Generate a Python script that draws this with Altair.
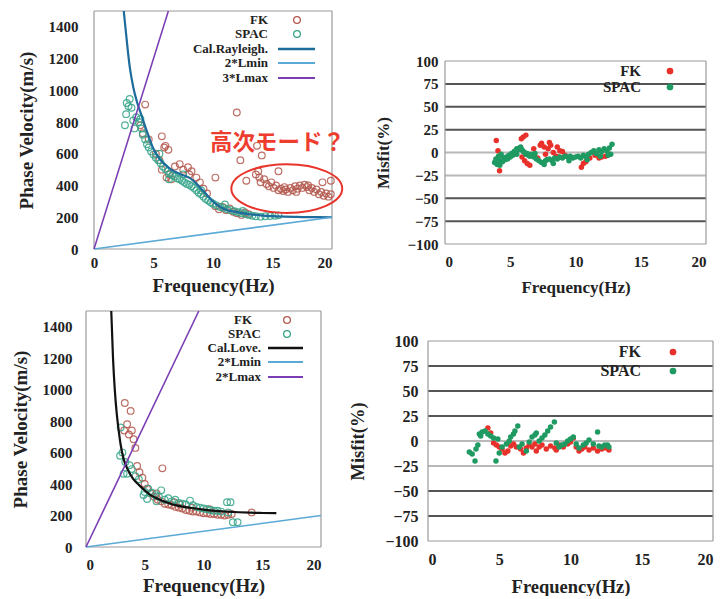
import altair as alt
import pandas as pd

SERIF = "Liberation Serif"

# ---------------- Panel 1 (Rayleigh) ----------------
fk1_f = [4.3, 4.1, 3.9, 4.6, 5.7, 5.9, 6.0, 6.25, 5.2, 5.5, 5.7, 6.1, 6.5, 6.3, 6.8, 7.2, 7.5, 7.9, 8.2, 8.0,
         8.6, 8.9, 9.2, 9.5, 10.2, 10.2, 10.5, 10.8, 11.1, 11.4, 11.7, 12.0, 12.4, 12.7, 13.0, 12.0, 12.3, 12.8,
         13.7, 14.1, 13.8, 15.5,
         13.6, 13.9, 14.0, 14.3, 14.5, 14.7, 14.9, 15.1, 15.3, 15.5, 15.7, 15.9, 16.1, 16.3, 16.5, 16.7, 16.9,
         17.1, 17.3, 17.5, 17.7, 17.9, 18.1, 18.3, 18.5, 18.7, 18.9, 19.1, 19.3, 19.5, 19.7, 19.9, 19.2, 19.9,
         18.0, 16.0, 17.0]
fk1_v = [910, 730, 780, 690, 710, 640, 650, 625, 600, 560, 500, 450, 440, 470, 520, 535, 500, 515, 490, 470,
         450, 420, 380, 350, 450, 270, 250, 265, 245, 255, 235, 225, 215, 230, 220, 860, 560, 430,
         650, 590, 490, 490,
         470, 450, 420, 440, 410, 395, 420, 385, 400, 370, 380, 365, 375, 360, 385, 370, 395,
         380, 400, 385, 405, 390, 370, 385, 360, 375, 345, 360, 335, 350, 330, 345, 420, 430,
         400, 390, 360]
spac1_f = [2.6, 2.7, 2.75, 2.9, 3.0, 3.15, 3.3, 3.4, 3.55, 3.75, 3.9, 4.0, 4.1, 4.3, 4.45, 4.6, 4.8, 5.0, 5.2,
           5.4, 5.6, 5.8, 6.0, 6.2, 6.4, 6.6, 6.8, 7.0, 7.2, 7.4, 7.6, 7.8, 8.0, 8.2, 8.4, 8.6, 8.8, 9.0, 9.2,
           9.4, 9.6, 9.8, 10.0, 10.3, 10.6, 10.9, 11.2, 11.5, 11.8, 12.1, 12.4, 12.7, 13.0, 13.3, 13.6, 14.0,
           14.4, 14.8, 15.2, 15.5, 5.5, 6.3, 7.5, 9.0, 11.0, 12.5]
spac1_v = [780, 850, 920, 900, 945, 890, 810, 760, 830, 800, 820, 760, 720, 690, 660, 640, 615, 595, 575,
           560, 540, 520, 505, 490, 475, 465, 455, 445, 440, 430, 420, 410, 405, 395, 385, 370, 355, 345, 330,
           315, 305, 295, 285, 275, 265, 258, 250, 245, 238, 232, 226, 220, 215, 210, 206, 204,
           206, 208, 210, 212, 600, 440, 470, 370, 280, 240]
ray_f = [2.5, 2.8, 3.0, 3.3, 3.6, 4.0, 4.5, 5.0, 5.5, 6.0, 6.5, 7.0, 7.5, 8.0, 8.5, 9.0, 9.5, 10.0, 10.5,
         11.0, 12.0, 13.0, 14.0, 15.0, 16.0, 17.0, 18.0, 20.0]
ray_v = [1500, 1280, 1150, 1020, 930, 840, 730, 630, 570, 530, 500, 480, 465, 450, 420, 380, 340, 300, 270,
         250, 232, 220, 212, 207, 204, 202, 201, 200]
lmin_f = [0, 20]
lmin_v = [0, 200]
lmax1_f = [0, 6.25]
lmax1_v = [0, 1500]
ann_f = [9.75]
ann_v = [668]
ann_text = ["高次モード？"]
ell_f = [16.2]
ell_v = [381]

# ---------------- Panel 3 (Love) ----------------
fk3_f = [3.3, 3.8, 3.5, 3.25, 3.65, 3.9, 4.05, 4.2, 4.35, 4.55, 6.5, 4.8, 5.0, 5.2, 5.5, 5.8, 6.1, 6.4, 6.7,
         7.0, 7.3, 7.6, 7.9, 8.2, 8.5, 8.8, 9.1, 9.4, 9.7, 10.0, 10.3, 10.6, 10.9, 11.2, 11.5, 11.8, 12.1,
         12.4, 14.1, 6.0, 7.5, 9.0, 10.5, 8.0]
fk3_v = [915, 865, 780, 740, 715, 740, 685, 630, 515, 475, 500, 440, 400, 370, 340, 320, 300, 290, 275,
         270, 265, 255, 250, 245, 235, 230, 225, 225, 220, 215, 215, 210, 210, 205, 205, 200, 205,
         210, 220, 340, 285, 250, 240, 270]
spac3_f = [2.95, 2.9, 3.1, 3.35, 3.2, 3.5, 3.9, 3.7, 4.2, 4.5, 4.9, 5.3, 5.2, 5.6, 5.9, 6.2, 6.4, 6.7, 7.0,
           7.3, 7.6, 7.9, 8.2, 8.5, 8.85, 9.1, 9.4, 9.7, 10.0, 10.3, 10.6, 10.9, 11.2, 11.5, 12.0, 12.3,
           12.1, 12.5, 12.9, 6.0, 5.0]
spac3_v = [760, 580, 600, 540, 465, 465, 495, 520, 450, 430, 330, 370, 305, 345, 330, 320, 360, 300, 310,
           290, 300, 280, 275, 270, 295, 265, 255, 250, 245, 240, 235, 230, 230, 225, 285, 285,
           220, 158, 158, 290, 350]
love_f = [2.15, 2.3, 2.45, 2.6, 2.75, 2.95, 3.2, 3.5, 4.0, 4.5, 5.0, 5.5, 6.0, 7.0, 8.0, 9.0, 10.0, 11.0,
          12.0, 13.0, 14.0, 15.0, 16.2]
love_v = [1500, 1200, 1000, 860, 760, 650, 560, 500, 435, 395, 360, 330, 310, 280, 260, 248, 238, 230,
          225, 221, 218, 216, 215]
lmax3_f = [0, 9.6]
lmax3_v = [0, 1500]

# ---------------- Panel 2 (Rayleigh misfit) ----------------
mfk2_f = [3.93, 4.06, 4.18, 5.85, 6.0, 6.2, 5.9, 6.1, 6.3, 6.5, 6.8, 7.1, 7.4, 7.6, 7.9, 7.7, 8.1, 8.3, 8.5,
          8.6, 8.8, 9.0, 9.2, 10.45, 10.6, 10.8, 11.1, 11.5, 11.8, 12.0, 12.3, 12.6, 7.3, 8.0, 8.7]
mfk2_m = [13, 2, -20, 15, 17, 19, -5, -9, -12, -14, 4, -6, 10, 6, 4, -2, 8, 0, -4,
          6, 2, 1, -3, -16, -12, -10, -6, -3, -6, -5, -4, -2, 8, 11, -5]
msp2_f = [3.8, 3.9, 4.0, 4.1, 4.2, 4.3, 4.4, 4.5, 4.6, 4.7, 4.8, 4.9, 5.0, 5.1, 5.2, 5.3, 5.4, 5.5, 5.6,
          5.7, 5.8, 5.9, 6.0, 6.1, 6.2, 6.3, 6.4, 6.5, 6.6, 6.8, 7.0, 7.2, 7.4, 7.6, 7.7, 7.8, 8.0, 8.2,
          8.4, 8.6, 8.8, 9.0, 9.2, 9.4, 9.6, 9.8, 10.0, 10.2, 10.4, 10.6, 10.8, 11.0, 11.2, 11.4, 11.6,
          11.8, 12.0, 12.2, 12.4, 12.6, 12.8, 12.7, 11.9, 4.2, 5.5, 6.9, 8.3, 9.5, 10.9, 12.5]
msp2_m = [-11, -7, -13, -4, -9, -2, -10, -6, -8, -5, -7, -3, -5, -1, -3, 1, 2, 4, 3,
          5, 6, 3, 1, 0, -2, -1, -3, -4, -2, -5, -7, -9, -11, -13, -9, -8, -7, -9,
          -6, -7, -5, -6, -4, -5, -4, -6, -5, -4, -6, -3, -5, -2, 0, 2, -1,
          3, 1, 4, 2, 5, 9, -2, -4, -14, -2, -1, -12, -9, -8, -3]

# ---------------- Panel 4 (Love misfit) ----------------
mfk4_f = [4.2, 4.4, 4.6, 4.8, 5.0, 5.2, 5.4, 5.6, 5.8, 6.0, 6.2, 6.5, 6.7, 6.9, 7.1, 7.3, 7.5, 7.8, 8.0,
          8.3, 8.6, 8.9, 9.2, 9.5, 9.8, 10.0, 10.2, 10.4, 10.6, 10.8, 11.0, 11.3, 11.6, 11.9, 12.2, 12.5,
          12.7, 9.0, 7.6]
mfk4_m = [13, 8, -2, -4, -6, -8, -12, -10, -5, -3, -6, -8, -12, -7, -4, -6, -3, -6, -4,
          -8, -5, -7, -4, -6, -3, -1, 3, -6, -10, -8, -6, -9, -7, -10, -8, -7,
          -9, -9, -10]
msp4_f = [2.9, 3.1, 3.3, 3.37, 3.5, 3.6, 3.7, 3.8, 4.0, 4.2, 4.4, 4.6, 4.77, 4.9, 5.0, 5.2, 5.5, 5.7, 5.8,
          6.0, 6.1, 6.3, 6.4, 6.6, 6.9, 7.1, 7.3, 7.5, 7.6, 7.8, 8.0, 8.2, 8.4, 8.6, 8.87, 9.0, 9.2, 9.4,
          9.6, 9.8, 10.0, 10.2, 10.4, 10.6, 10.9, 11.1, 11.3, 11.6, 11.9, 12.0, 12.2, 12.4, 12.6, 12.7]
msp4_m = [-11, -13, -20, -8, -4, 7, 5, 9, 10, 7, 5, 3, -20, 2, -12, -6, -3, 0, 4,
          7, 10, 15, -6, -3, -10, -1, 4, 6, 8, 0, 3, 6, 10, 14, 19, -2, -6, -4,
          -3, 0, 2, 4, -3, -7, -4, -2, 1, -3, 9, -5, -6, -4, -4, -6]

grid_dark = [75, 50, 25, -50, -75]
grid_light = [0, -25]
misfit_ticks = [100, 75, 50, 25, 0, -25, -50, -75, -100]
freq_ticks = [0, 5, 10, 15, 20]
vel_ticks = [0, 200, 400, 600, 800, 1000, 1200, 1400]

# ---------------- styles ----------------
C_FK = "#b3574c"
C_SPAC = "#34a489"
C_RAY = "#1d6c9c"
C_LMIN = "#5aa9d6"
C_LMAX = "#7a3db3"
C_RED = "#e8312b"
C_GREEN = "#1f9a62"
C_FRAME = "#9a9a9a"
NO_STROKE = alt.ViewBackground(strokeOpacity=0)


def df(xs, ys, xn="f", yn="v"):
    return pd.DataFrame({xn: xs, yn: ys})


def leg_text(label, x, y, size):
    return alt.Chart(pd.DataFrame({"label": [label]})).mark_text(
        align="right", baseline="middle", font=SERIF, fontWeight="bold", fontSize=size, color="#222"
    ).encode(x=alt.value(x), y=alt.value(y), text="label:N")


def leg_circle(x, y, color, filled, size):
    return alt.Chart(pd.DataFrame({"k": [0]})).mark_point(
        shape="circle", filled=filled, color=color, size=size, strokeWidth=1.3, opacity=1
    ).encode(x=alt.value(x), y=alt.value(y))


def leg_line(x1, x2, y, color, width):
    return alt.Chart(pd.DataFrame({"k": [0]})).mark_rule(color=color, strokeWidth=width).encode(
        x=alt.value(x1), x2=alt.value(x2), y=alt.value(y))


def phase_panel(w, h, left_px, fk, spac, curve, curve_color, lmin, lmax, labels, leg, ylab_pad, ytitle_pad,
                xlab_pad, xtitle_pad, extra=None):
    # plot area extended leftward by left_px (blank) to shift the framed panel inside its column
    fmin = -left_px * 20.0 / w
    X = alt.X("f:Q", scale=alt.Scale(domain=[fmin, 20], nice=False, zero=False),
              axis=alt.Axis(values=freq_ticks, title="Frequency(Hz)", titleX=left_px + w / 2.0,
                            labelPadding=xlab_pad, titlePadding=xtitle_pad))
    Y = alt.Y("v:Q", scale=alt.Scale(domain=[0, 1500], nice=False),
              axis=alt.Axis(values=vel_ticks, format="d", title="Phase Velocity(m/s)",
                            labelPadding=ylab_pad, titlePadding=ytitle_pad))
    frame_h = pd.DataFrame({"v": [0, 1500], "f": [0, 0], "f2": [20, 20]})
    frame_v = pd.DataFrame({"f": [0, 20], "v": [0, 0], "v2": [1500, 1500]})
    layers = [
        alt.Chart(frame_h).mark_rule(color=C_FRAME, strokeWidth=1.2).encode(x=X, x2="f2:Q", y=Y),
        alt.Chart(frame_v).mark_rule(color=C_FRAME, strokeWidth=1.2).encode(x=X, y=Y, y2="v2:Q"),
        alt.Chart(fk).mark_point(shape="circle", filled=False, color=C_FK, size=45, strokeWidth=1.2,
                                 opacity=0.85).encode(x=X, y=Y),
        alt.Chart(spac).mark_point(shape="circle", filled=False, color=C_SPAC, size=45, strokeWidth=1.2,
                                   opacity=0.85).encode(x=X, y=Y),
        alt.Chart(curve).mark_line(color=curve_color, strokeWidth=2.2, interpolate="monotone").encode(x=X, y=Y),
        alt.Chart(lmin).mark_line(color=C_LMIN, strokeWidth=1.6).encode(x=X, y=Y),
        alt.Chart(lmax).mark_line(color=C_LMAX, strokeWidth=1.6).encode(x=X, y=Y),
    ]
    tx, cx, lx1, lx2, ys, fkx = leg
    o = left_px
    fs = 13
    layers += [
        leg_text(labels[0], o + fkx, ys[0], fs), leg_circle(o + cx, ys[0], C_FK, False, 45),
        leg_text(labels[1], o + tx, ys[1], fs), leg_circle(o + cx, ys[1], C_SPAC, False, 45),
        leg_text(labels[2], o + tx, ys[2], fs), leg_line(o + lx1, o + lx2, ys[2], curve_color, 2.4),
        leg_text(labels[3], o + tx, ys[3], fs), leg_line(o + lx1, o + lx2, ys[3], C_LMIN, 1.8),
        leg_text(labels[4], o + tx, ys[4], fs), leg_line(o + lx1, o + lx2, ys[4], C_LMAX, 1.8),
    ]
    if extra is not None:
        layers += [e(X, Y) for e in extra]
    return alt.layer(*layers).properties(width=w + left_px, height=h, view=NO_STROKE)


def misfit_panel(w, h, extra_px, fk, spac, leg, ylab_pad, ytitle_pad, xlab_pad, xtitle_pad,
                 lab_fs, title_fs, leg_fs):
    # plot area extended upward by extra_px (blank) so the framed panel sits lower in its row
    ymax = 100 + extra_px * 200.0 / h
    X = alt.X("f:Q", scale=alt.Scale(domain=[0, 20], nice=False),
              axis=alt.Axis(values=freq_ticks, title="Frequency(Hz)", labelFontSize=lab_fs,
                            labelPadding=xlab_pad, titlePadding=xtitle_pad, titleFontSize=title_fs))
    Y = alt.Y("m:Q", scale=alt.Scale(domain=[-100, ymax], nice=False),
              axis=alt.Axis(values=misfit_ticks, title="Misfit(%)", titleY=extra_px + h / 2.0,
                            labelFontSize=lab_fs, labelPadding=ylab_pad, titlePadding=ytitle_pad,
                            titleFontSize=title_fs))
    tx, cx, ys = leg
    frame_h = pd.DataFrame({"m": [100, -100]})
    frame_v = pd.DataFrame({"f": [0, 20], "m": [-100, -100], "m2": [100, 100]})
    layers = [
        alt.Chart(pd.DataFrame({"m": grid_dark})).mark_rule(color="#555", strokeWidth=2).encode(y=Y),
        alt.Chart(pd.DataFrame({"m": grid_light})).mark_rule(color="#b8b8b8", strokeWidth=2).encode(y=Y),
        alt.Chart(frame_h).mark_rule(color=C_FRAME, strokeWidth=1.2).encode(y=Y),
        alt.Chart(frame_v).mark_rule(color=C_FRAME, strokeWidth=1.2).encode(x=X, y=Y, y2="m2:Q"),
        alt.Chart(fk).mark_circle(color=C_RED, size=30, opacity=1).encode(x=X, y=Y),
        alt.Chart(spac).mark_circle(color=C_GREEN, size=30, opacity=1).encode(x=X, y=Y),
        leg_text("FK", tx, extra_px + ys[0], leg_fs), leg_circle(cx, extra_px + ys[0], C_RED, True, 45),
        leg_text("SPAC", tx, extra_px + ys[1], leg_fs), leg_circle(cx, extra_px + ys[1], C_GREEN, True, 45),
    ]
    return alt.layer(*layers).properties(width=w, height=h + extra_px, view=NO_STROKE)


ELLIPSE = "M-1,0 A1,0.44 0 1,0 1,0 A1,0.44 0 1,0 -1,0 Z"


def ann_text_layer(X, Y):
    return alt.Chart(pd.DataFrame({"f": ann_f, "v": ann_v, "t": ann_text})).mark_text(
        align="left", baseline="middle", font="Noto Sans CJK JP", fontWeight="bold", fontSize=22.5,
        color="#ee3d2f"
    ).encode(x=X, y=Y, text="t:N")


def ann_ellipse_layer(X, Y):
    return alt.Chart(df(ell_f, ell_v)).mark_point(
        shape=ELLIPSE, filled=False, color="#e8342a", size=12300, strokeWidth=2, opacity=1
    ).encode(x=X, y=Y)


p1 = phase_panel(238, 238, 8, df(fk1_f, fk1_v), df(spac1_f, spac1_v), df(ray_f, ray_v), C_RAY,
                 df(lmin_f, lmin_v), df(lmax1_f, lmax1_v),
                 ["FK", "SPAC", "Cal.Rayleigh.", "2*Lmin", "3*Lmax"],
                 (174, 203, 184, 221, [9, 23, 38, 52, 67], 174),
                 ylab_pad=8, ytitle_pad=12, xlab_pad=6, xtitle_pad=6,
                 extra=[ann_text_layer, ann_ellipse_layer])

p3 = phase_panel(235, 236, 0, df(fk3_f, fk3_v), df(spac3_f, spac3_v), df(love_f, love_v), "#111",
                 df(lmin_f, lmin_v), df(lmax3_f, lmax3_v),
                 ["FK", "SPAC", "Cal.Love.", "2*Lmin", "2*Lmax"],
                 (175, 201, 182, 217, [9, 23, 37, 51, 66], 166),
                 ylab_pad=14, ytitle_pad=12, xlab_pad=10, xtitle_pad=4)

p2 = misfit_panel(261, 183, 50, df(mfk2_f, mfk2_m, "f", "m"), df(msp2_f, msp2_m, "f", "m"),
                  (196, 225, [10, 26]), ylab_pad=7, ytitle_pad=14, xlab_pad=10, xtitle_pad=10,
                  lab_fs=15, title_fs=17, leg_fs=15)

p4 = misfit_panel(285, 200, 30, df(mfk4_f, mfk4_m, "f", "m"), df(msp4_f, msp4_m, "f", "m"),
                  (213, 245, [11, 30]), ylab_pad=10, ytitle_pad=17, xlab_pad=10, xtitle_pad=10,
                  lab_fs=16, title_fs=18.5, leg_fs=16)

chart = alt.vconcat(
    alt.hconcat(p1, p2, spacing=27),
    alt.hconcat(p3, p4, spacing=23),
    spacing=11,
).properties(
    padding={"left": 3, "top": -2, "right": 0, "bottom": 0}
).configure_axis(
    labelFont=SERIF, labelFontWeight="bold", labelFontSize=15, labelColor="#222",
    titleFont=SERIF, titleFontWeight="bold", titleFontSize=19, titleColor="#222",
    domain=False, ticks=False, grid=False
).configure_view(
    stroke=C_FRAME, strokeWidth=1.2
)

chart.save("out.html", embed_options={"renderer": "svg", "actions": False})
